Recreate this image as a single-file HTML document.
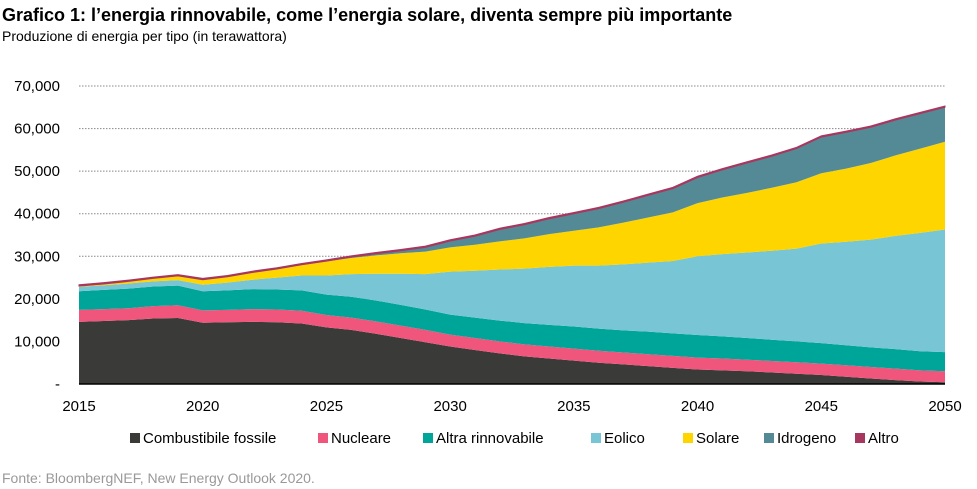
<!DOCTYPE html>
<html><head><meta charset="utf-8"><style>
body{margin:0;background:#fff;font-family:"Liberation Sans",Arial,sans-serif;}
#wrap{position:relative;width:977px;height:489px;overflow:hidden;}
</style></head><body>
<div id="wrap">
<svg id="chart" width="977" height="489">
<text x="2" y="21" font-size="18" font-weight="bold" fill="#000">Grafico 1: l’energia rinnovabile, come l’energia solare, diventa sempre più importante</text>
<text x="2" y="41" font-size="14" fill="#000">Produzione di energia per tipo (in terawattora)</text>
<g id="grid"></g><g id="areas"></g><g id="axes"></g><g id="legend"></g>
<text x="2" y="483" font-size="14" fill="#999">Fonte: BloombergNEF, New Energy Outlook 2020.</text>
</svg></div>
<script>
const years=[];for(let y=2015;y<=2050;y++)years.push(y);
const fossil=[14.6,14.8,15.0,15.4,15.5,14.4,14.5,14.6,14.5,14.2,13.3,12.7,11.8,10.8,9.8,8.8,8.0,7.2,6.5,6.0,5.5,5.0,4.6,4.2,3.8,3.4,3.2,3.0,2.7,2.4,2.1,1.7,1.3,0.9,0.6,0.4];
const nuclear=[2.8,2.8,2.8,2.9,3.0,2.9,2.9,3.0,3.0,3.0,2.9,2.9,2.9,2.9,2.9,2.8,2.8,2.8,2.8,2.8,2.8,2.8,2.8,2.8,2.8,2.8,2.8,2.7,2.7,2.7,2.7,2.7,2.7,2.7,2.6,2.6];
const otherRenew=[4.4,4.5,4.6,4.6,4.6,4.5,4.6,4.7,4.7,4.8,4.8,4.9,4.9,4.9,4.8,4.7,4.8,4.9,5.0,5.1,5.2,5.2,5.2,5.3,5.3,5.3,5.2,5.1,5.0,4.9,4.8,4.7,4.6,4.6,4.5,4.5];
const wind=[1.0,1.1,1.2,1.2,1.3,1.5,1.8,2.2,2.8,3.5,4.5,5.3,6.3,7.3,8.3,10.1,11.0,12.0,12.8,13.6,14.3,14.8,15.5,16.2,17.0,18.5,19.3,20.1,20.9,21.8,23.4,24.3,25.3,26.6,27.8,28.8];
const solar=[0.2,0.3,0.5,0.7,1.0,1.2,1.4,1.7,2.0,2.5,3.3,3.8,4.3,4.8,5.3,5.7,6.1,6.6,7.1,7.7,8.2,9.0,9.8,10.6,11.4,12.5,13.3,14.0,14.8,15.6,16.5,17.2,18.0,18.9,19.8,20.6];
const hydrogen=[0,0,0,0,0,0,0,0,0,0,0.05,0.2,0.4,0.6,1.0,1.5,2.0,2.8,3.2,3.6,4.0,4.4,4.8,5.2,5.6,6.0,6.5,7.0,7.4,7.9,8.5,8.5,8.4,8.3,8.2,8.1];
const other=[0.3,0.3,0.3,0.3,0.3,0.3,0.3,0.3,0.3,0.3,0.3,0.3,0.3,0.3,0.3,0.3,0.3,0.3,0.3,0.3,0.3,0.3,0.3,0.3,0.3,0.3,0.3,0.3,0.3,0.3,0.3,0.3,0.3,0.3,0.3,0.3];
const seriesNames=["Combustibile fossile","Nucleare","Altra rinnovabile","Eolico","Solare","Idrogeno","Altro"];
const yTicks=[0,10000,20000,30000,40000,50000,60000,70000];
const yTickLabels=["-","10,000","20,000","30,000","40,000","50,000","60,000","70,000"];
const xTicks=[2015,2020,2025,2030,2035,2040,2045,2050];
const series=[fossil,nuclear,otherRenew,wind,solar,hydrogen,other];
const colors=["#3a3b38","#f0557b","#00a599","#78c5d5","#ffd500","#548a95","#a8375f"];
const NS="http://www.w3.org/2000/svg";
const X0=79,X1=945,Y0=384,Y1=86;
const xs=y=>X0+(y-2015)/35*(X1-X0);
const ys=v=>Y0-v/70000*(Y0-Y1);
function mk(t,a,p){const e=document.createElementNS(NS,t);for(const k in a)e.setAttribute(k,a[k]);p.appendChild(e);return e;}
const grid=document.getElementById('grid'),areas=document.getElementById('areas'),axes=document.getElementById('axes'),legend=document.getElementById('legend');
yTicks.forEach((v,i)=>{
 if(v>0){const l=mk('line',{x1:X0,x2:X1,y1:ys(v),y2:ys(v),stroke:'#888','stroke-dasharray':'1.5,1.5','stroke-width':1},grid);
 
 }
 const t=mk('text',{x:60,y:ys(v)+5,'text-anchor':'end','font-size':15,fill:'#000'},axes);t.textContent=yTickLabels[i];
 
 
});
let base=years.map(()=>0);
series.forEach((s,si)=>{
 const top=base.map((b,i)=>b+s[i]*1000);
 let d='M'+years.map((y,i)=>xs(y)+','+ys(top[i])).join('L');
 for(let i=years.length-1;i>=0;i--)d+='L'+xs(years[i])+','+ys(base[i]);
 d+='Z';
 const p=mk('path',{d:d,fill:colors[si],stroke:si==6?colors[si]:'none','stroke-width':si==6?1:0},areas);
 
 
 base=top;
});
const ax=mk('line',{x1:X0,x2:X1,y1:Y0,y2:Y0,stroke:'#000','stroke-width':1.5},axes);


xTicks.forEach(y=>{const t=mk('text',{x:xs(y),y:411,'text-anchor':'middle','font-size':15,fill:'#000'},axes);t.textContent=y;
 
 });
const lx=[130,318,423,591,683,764,855];
seriesNames.forEach((n,i)=>{
 const g=mk('g',{},legend);
 
 
 mk('rect',{x:lx[i],y:433,width:10,height:10,fill:colors[i]},g);
 const t=mk('text',{x:lx[i]+13,y:443,'font-size':15,fill:'#000'},g);t.textContent=n;
});
</script>
</body></html>
